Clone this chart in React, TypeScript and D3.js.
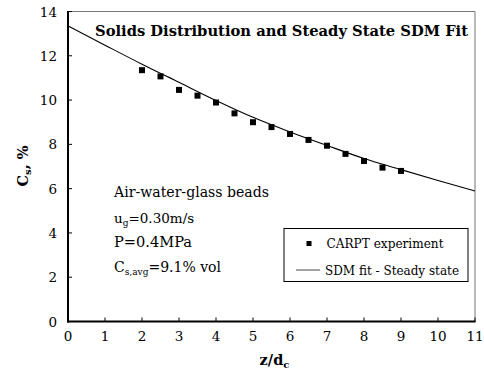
import React from "react";
import * as d3 from "d3";

const expZ = [2, 2.5, 3, 3.5, 4, 4.5, 5, 5.5, 6, 6.5, 7, 7.5, 8, 8.5, 9];
const expCs = [11.35, 11.07, 10.46, 10.2, 9.89, 9.4, 9.0, 8.78, 8.47, 8.2, 7.94, 7.57, 7.25, 6.95, 6.8];
const fitZ = [0, 1, 2, 3, 4, 5, 6, 7, 8, 9, 10, 11];
const fitCs = [13.35, 12.48, 11.62, 10.8, 9.98, 9.22, 8.56, 7.95, 7.36, 6.86, 6.37, 5.89];
const xTicks = [0, 1, 2, 3, 4, 5, 6, 7, 8, 9, 10, 11];
const yTicks = [0, 2, 4, 6, 8, 10, 12, 14];

const W = 484;
const H = 379;
const L = 68;
const R = 475;
const T = 11.5;
const B = 321.5;
const font = "DejaVu Serif, serif";

export default function App() {
  const x = d3.scaleLinear().domain([0, 11]).range([L, R]);
  const y = d3.scaleLinear().domain([0, 14]).range([B, T]);
  const line = d3
    .line<number>()
    .x((_, i) => x(fitZ[i]))
    .y((d) => y(d))
    .curve(d3.curveMonotoneX);
  const sq = 6;
  const adj = "spacingAndGlyphs";
  return (
    <svg
      width={W}
      height={H}
      style={{ position: "absolute", left: 0, top: 0, background: "#fff", fontFamily: font }}
    >
      <rect x={0} y={0} width={W} height={H} fill="#fff" />
      {/* frame */}
      <line x1={L} x2={R} y1={T} y2={T} stroke="#777" strokeWidth={1} />
      <line x1={R} x2={R} y1={T} y2={B} stroke="#777" strokeWidth={1} />
      {/* ticks */}
      {xTicks.map((t) => (
        <g key={"xt" + t}>
          <line x1={x(t)} x2={x(t)} y1={B} y2={B - 4} stroke="#000" strokeWidth={1} />
          <text x={x(t)} y={340.5} textAnchor="middle" fontSize={13.5}>
            {t}
          </text>
        </g>
      ))}
      {yTicks.map((t) => (
        <g key={"yt" + t}>
          <line x1={L} x2={L + 4} y1={y(t)} y2={y(t)} stroke="#000" strokeWidth={1} />
          <text x={57} y={y(t) + 5} textAnchor="end" fontSize={13.5}>
            {t}
          </text>
        </g>
      ))}
      {/* fit line */}
      <path d={line(fitCs) || ""} fill="none" stroke="#000" strokeWidth={1.1} />
      {/* experiment points */}
      {expZ.map((z, i) => (
        <rect
          key={"p" + i}
          x={x(z) - sq / 2}
          y={y(expCs[i]) - sq / 2}
          width={sq}
          height={sq}
          fill="#000"
        />
      ))}
      {/* axes */}
      <line x1={L} x2={L} y1={T - 0.5} y2={B + 1} stroke="#000" strokeWidth={2} />
      <line x1={L - 1} x2={R + 0.5} y1={B} y2={B} stroke="#000" strokeWidth={2} />
      {/* title */}
      <text x={95} y={35.5} fontSize={15} fontWeight="bold" textLength={373} lengthAdjust={adj}>
        Solids Distribution and Steady State SDM Fit
      </text>
      {/* annotations */}
      <text x={114} y={197} fontSize={14.5} textLength={155} lengthAdjust={adj}>
        Air-water-glass beads
      </text>
      <text x={114} y={223} fontSize={13.5}>
        u<tspan fontSize={9} dy={3}>g</tspan>
        <tspan dy={-3}>=0.30m/s</tspan>
      </text>
      <text x={114} y={247} fontSize={14.5} textLength={78} lengthAdjust={adj}>
        P=0.4MPa
      </text>
      <text x={114} y={272} fontSize={14}>
        C<tspan fontSize={9} dy={3}>s,avg</tspan>
        <tspan dy={-3}>=9.1% vol</tspan>
      </text>
      {/* legend */}
      <rect x={284} y={228.5} width={184} height={53} fill="#fff" stroke="#000" strokeWidth={1} />
      <rect x={309 - 2.5} y={243.5 - 2.5} width={5} height={5} fill="#000" />
      <text x={326.5} y={248} fontSize={13.5} textLength={117} lengthAdjust={adj}>
        CARPT experiment
      </text>
      <line x1={296} x2={320} y1={270} y2={270} stroke="#666" strokeWidth={1.2} />
      <text x={325} y={275} fontSize={13.5} textLength={134} lengthAdjust={adj}>
        SDM fit - Steady state
      </text>
      {/* axis titles */}
      <text x={274.5} y={365} textAnchor="middle" fontSize={14.5} fontWeight="bold">
        z/d<tspan fontSize={10} dy={3}>c</tspan>
      </text>
      <text
        transform={`translate(28, 166) rotate(-90)`}
        textAnchor="middle"
        fontSize={14.5}
        fontWeight="bold"
      >
        C<tspan fontSize={10} dy={3}>s</tspan>
        <tspan dy={-3}>, %</tspan>
      </text>
    </svg>
  );
}
